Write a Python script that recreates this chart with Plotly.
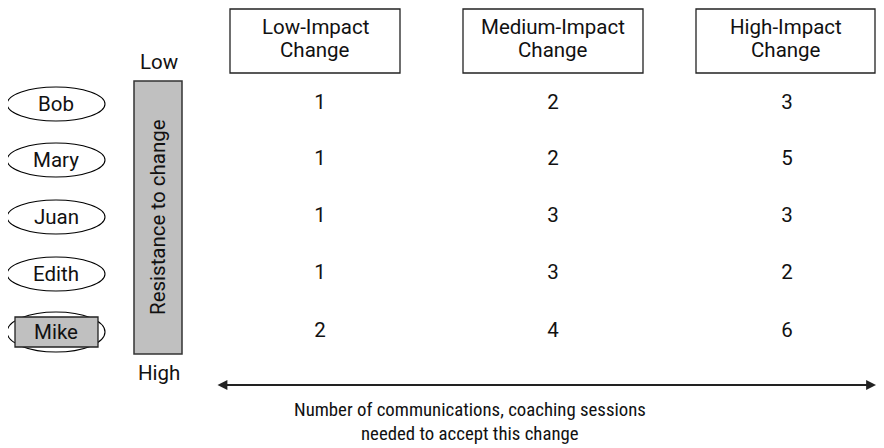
import plotly.graph_objects as go

# ---- data ----
people = ["Bob", "Mary", "Juan", "Edith", "Mike"]
change_types = ["Low-Impact\nChange", "Medium-Impact\nChange", "High-Impact\nChange"]
low_impact = [1, 1, 1, 1, 2]
medium_impact = [2, 2, 3, 3, 4]
high_impact = [3, 5, 3, 2, 6]
highlighted = ["Mike"]
scale_top = "Low"
scale_bottom = "High"
scale_label = "Resistance to change"
axis_caption = ["Number of communications, coaching sessions", "needed to accept this change"]

# ---- layout (page pixel coordinates; page body has an 8px margin) ----
W, H = 884, 448
OFF = 8
FONT = "Roboto, Liberation Sans, sans-serif"
FONT_CAP = "Roboto Condensed, Roboto, sans-serif"
FS = 20.5
FS_CAP = 18.8
TXT = "#111"
row_y = [104, 160, 217, 274, 332]
col_x = [320, 553, 787]
box_x = [(230, 400), (463, 643), (696, 875)]
box_y = (9, 73)
name_cx, name_w, name_h = 56, 98, 34

fig = go.Figure()

# values
series = [low_impact, medium_impact, high_impact]
for ci, vals in enumerate(series):
    fig.add_trace(go.Scatter(
        x=[col_x[ci]] * len(vals), y=row_y, mode="text",
        text=[str(v) for v in vals],
        textfont=dict(family=FONT, size=FS, color=TXT),
        textposition="middle center", hoverinfo="skip", showlegend=False))

shapes = []
annotations = []

def label(x, y, t, angle=0, family=FONT, size=FS):
    annotations.append(dict(x=x, y=y, text=t, showarrow=False, textangle=angle,
                            font=dict(family=family, size=size, color=TXT),
                            xanchor="center", yanchor="middle"))

# column header boxes
for (x0, x1), lab in zip(box_x, change_types):
    shapes.append(dict(type="rect", x0=x0, x1=x1, y0=box_y[0], y1=box_y[1],
                       line=dict(color="#222", width=1.3), fillcolor="white", layer="below"))
    for li, t in enumerate(lab.split("\n")):
        label((x0 + x1) / 2, 27 + 23 * li, t)

# names in ellipses
for name, cy in zip(people, row_y):
    h = name_h + (6 if name in highlighted else 0)
    shapes.append(dict(type="circle", x0=name_cx - name_w / 2, x1=name_cx + name_w / 2,
                       y0=cy - h / 2, y1=cy + h / 2,
                       line=dict(color="black", width=1.1), fillcolor="white", layer="below"))
    if name in highlighted:
        shapes.append(dict(type="rect", x0=15, x1=98, y0=cy - 15, y1=cy + 15,
                           line=dict(color="#222", width=1.3), fillcolor="#c0c0c0", layer="below"))
    label(name_cx, cy, name)

# resistance bar
shapes.append(dict(type="rect", x0=134, x1=182, y0=81, y1=354,
                   line=dict(color="#333", width=1.5), fillcolor="#c0c0c0", layer="below"))
label(158, 217, scale_label, angle=-90)
label(159, 62, scale_top)
label(159, 373, scale_bottom)

# double arrow
annotations.append(dict(x=876, y=385, ax=216, ay=385, xref="x", yref="y", axref="x", ayref="y",
                        text="", showarrow=True, arrowhead=2, startarrowhead=2,
                        arrowside="end+start", arrowsize=1.1, startarrowsize=1.1,
                        arrowwidth=1.8, arrowcolor="#222"))
for li, t in enumerate(axis_caption):
    label(470, 410 + 24 * li, t, family=FONT_CAP, size=FS_CAP)

fig.update_layout(
    width=W, height=H, margin=dict(l=0, r=0, t=0, b=0),
    paper_bgcolor="white", plot_bgcolor="white",
    xaxis=dict(range=[OFF, W + OFF], visible=False, fixedrange=True),
    yaxis=dict(range=[H + OFF, OFF], visible=False, fixedrange=True),
    shapes=shapes, annotations=annotations, showlegend=False)

fig.write_html("out.html")
